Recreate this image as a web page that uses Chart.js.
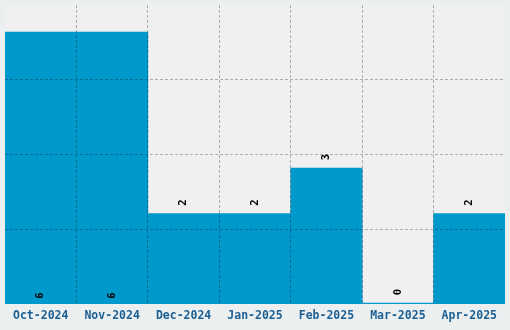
<!DOCTYPE html>
<html>
<head>
<meta charset="utf-8">
<script src="https://cdn.jsdelivr.net/npm/chart.js@4/dist/chart.umd.min.js"></script>
<style>
  html, body { margin: 0; padding: 0; background: #eceff0; }
  #wrap { width: 510px; height: 330px; position: relative; }
</style>
</head>
<body>
<div id="wrap"><canvas id="chart"></canvas></div>
<script>
const months = ['Oct-2024', 'Nov-2024', 'Dec-2024', 'Jan-2025', 'Feb-2025', 'Mar-2025', 'Apr-2025'];
const counts = [6, 6, 2, 2, 3, 0, 2];
const yMax = 6.6;
const yStep = 1.65;

const barColor = '#0099cc';
const gridColor = 'rgba(0, 0, 0, 0.28)';
const tickColor = '#1c5f93';
const monoFont = "'DejaVu Sans Mono', monospace";
const hidden = 'rgba(0, 0, 0, 0)';

// 描画領域の背景
const areaBackground = {
    id: 'areaBackground',
    beforeDraw(chart) {
        const { ctx, chartArea: a } = chart;
        ctx.save();
        ctx.fillStyle = '#f0f0f0';
        ctx.fillRect(a.left, a.top, a.right - a.left, a.bottom - a.top);
        ctx.restore();
    }
};

// 縦書きの値ラベル
const valueLabels = {
    id: 'valueLabels',
    afterDraw(chart) {
        const { ctx } = chart;
        const meta = chart.getDatasetMeta(0);
        const max = Math.max(...counts);
        ctx.save();
        ctx.fillStyle = '#000';
        ctx.font = 'bold 10.5px ' + monoFont;
        ctx.textAlign = 'center';
        ctx.textBaseline = 'middle';
        meta.data.forEach((bar, i) => {
            const v = counts[i];
            const y = v === max ? bar.base - 8 : bar.y - 11;
            ctx.save();
            ctx.translate(bar.x, y);
            ctx.rotate(-Math.PI / 2);
            ctx.fillText(String(v), 0, 0);
            ctx.restore();
        });
        ctx.restore();
    }
};

new Chart(document.getElementById('chart'), {
    type: 'bar',
    data: {
        labels: months,
        datasets: [{
            data: counts,
            backgroundColor: barColor,
            borderWidth: 0,
            barPercentage: 1,
            categoryPercentage: 1,
            minBarLength: 1
        }]
    },
    options: {
        responsive: true,
        maintainAspectRatio: false,
        animation: false,
        layout: { padding: { top: 5, left: 5, right: 5, bottom: 2 } },
        plugins: {
            legend: { display: false },
            tooltip: { enabled: false }
        },
        scales: {
            x: {
                grid: {
                    z: 1,
                    drawTicks: false,
                    // 両端の線は描かない
                    color: (ctx) => (ctx.type !== 'tick' || ctx.index === 0) ? hidden : gridColor,
                    lineWidth: 1
                },
                border: { display: false, dash: [3, 2] },
                ticks: {
                    color: tickColor,
                    padding: 5,
                    maxRotation: 0,
                    font: { family: monoFont, size: 11.5, weight: 'bold' }
                }
            },
            y: {
                min: 0,
                max: yMax,
                grid: {
                    z: 1,
                    drawTicks: false,
                    color: (ctx) => {
                        if (ctx.type !== 'tick') return hidden;
                        const v = ctx.tick.value;
                        return (v <= 0.01 || v >= yMax - 0.01) ? hidden : gridColor;
                    },
                    lineWidth: 1
                },
                border: { display: false, dash: [3, 2] },
                ticks: { display: false, stepSize: yStep }
            }
        }
    },
    plugins: [areaBackground, valueLabels]
});
</script>
</body>
</html>
